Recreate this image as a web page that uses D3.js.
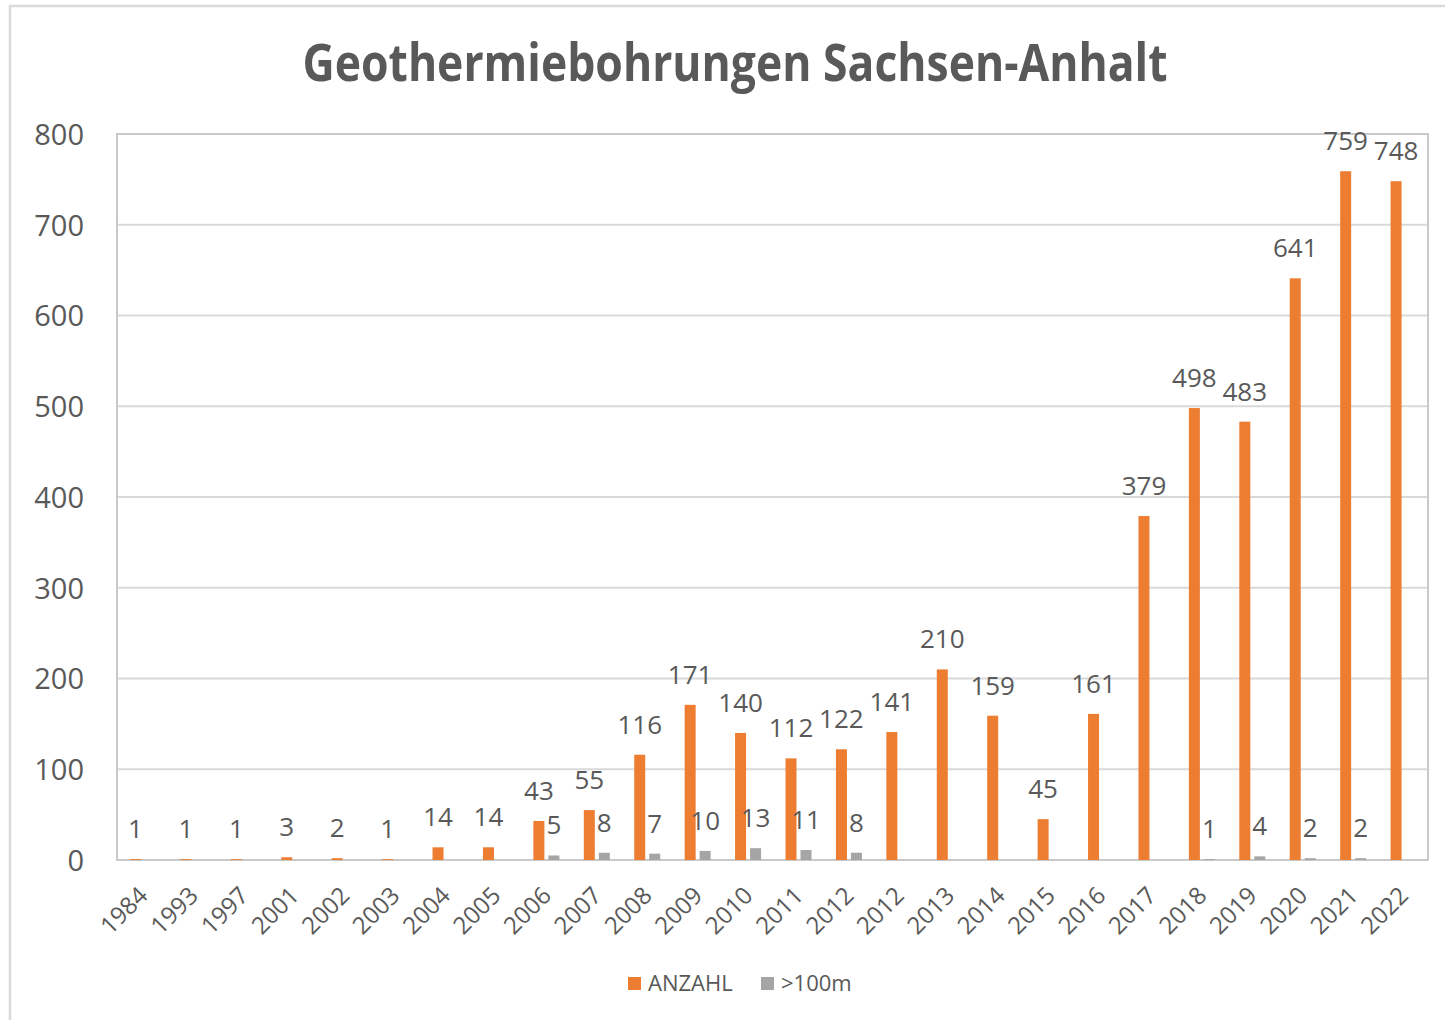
<!DOCTYPE html>
<html>
<head>
<meta charset="utf-8">
<script src="https://cdn.jsdelivr.net/npm/d3@7"></script>
<style>
  html, body { margin: 0; padding: 0; background: #fff; }
  svg { display: block; }
  text { font-family: "Open Sans", sans-serif; fill: #595959; }
</style>
</head>
<body>
<script>
const years = ["1984","1993","1997","2001","2002","2003","2004","2005","2006","2007","2008","2009","2010","2011","2012","2012","2013","2014","2015","2016","2017","2018","2019","2020","2021","2022"];
const anzahl = [1,1,1,3,2,1,14,14,43,55,116,171,140,112,122,141,210,159,45,161,379,498,483,641,759,748];
const ueber100 = [null,null,null,null,null,null,null,null,5,8,7,10,13,11,8,null,null,null,null,null,null,1,4,2,2,null];
const yTicks = [0,100,200,300,400,500,600,700,800];
const seriesNames = ["ANZAHL", ">100m"];
const seriesColors = ["#ED7D31", "#A5A5A5"];
const title = "Geothermiebohrungen Sachsen-Anhalt";

const W = 1445, H = 1020;
const plot = {left: 117, right: 1428, top: 134, bottom: 860};

const svg = d3.select("body").append("svg").attr("width", W).attr("height", H);

// outer chart border (left + top visible)
svg.append("path")
  .attr("d", `M10,${H} L10,6 L${W},6`)
  .attr("fill", "none").attr("stroke", "#D9D9D9").attr("stroke-width", 2.5);

const idx = d3.range(years.length);
const x = d3.scaleBand().domain(idx).range([plot.left, plot.right]).paddingInner(0).paddingOuter(0);
const y = d3.scaleLinear().domain([0, 800]).range([plot.bottom, plot.top]);

// gridlines
svg.append("g").selectAll("line").data(yTicks.filter(t => t > 0 && t < 800)).join("line")
  .attr("x1", plot.left).attr("x2", plot.right)
  .attr("y1", d => y(d)).attr("y2", d => y(d))
  .attr("stroke", "#D9D9D9").attr("stroke-width", 2);

// plot frame
svg.append("rect")
  .attr("x", plot.left).attr("y", plot.top)
  .attr("width", plot.right - plot.left).attr("height", plot.bottom - plot.top)
  .attr("fill", "none").attr("stroke", "#C9C9C9").attr("stroke-width", 2);

// y axis labels
const yAxis = d3.axisLeft(y).tickValues(yTicks).tickSize(0).tickPadding(0);
const gy = svg.append("g").attr("transform", `translate(${plot.left - 33},0)`).call(yAxis);
gy.select(".domain").remove();
gy.selectAll("text").style("font-size", "29px").attr("fill", "#595959").attr("dy", "0.36em");

// x axis labels
const xAxis = d3.axisBottom(x).tickFormat(i => years[i]).tickSize(0).tickPadding(0);
const gx = svg.append("g").attr("transform", `translate(0,${plot.bottom})`).call(xAxis);
gx.select(".domain").remove();
gx.selectAll("text")
  .style("font-size", "24px").attr("fill", "#595959")
  .attr("text-anchor", "end")
  .attr("dy", 0).attr("y", 0)
  .attr("transform", "translate(7,37) rotate(-45)");

const barW = 11;
const offs = [13, 28];
const seriesData = [anzahl, ueber100];

seriesData.forEach((vals, s) => {
  const g = svg.append("g");
  const pts = idx.filter(i => vals[i] != null);
  g.selectAll("rect").data(pts).join("rect")
    .attr("x", i => x(i) + offs[s])
    .attr("y", i => y(vals[i]))
    .attr("width", barW)
    .attr("height", i => y(0) - y(vals[i]))
    .attr("fill", seriesColors[s]);
  g.selectAll("text").data(pts).join("text")
    .attr("x", i => x(i) + offs[s] + barW / 2)
    .attr("y", i => y(vals[i]) - 21)
    .attr("text-anchor", "middle")
    .style("font-size", "26px")
    .attr("fill", "#404040")
    .text(i => vals[i]);
});

// title
svg.append("text")
  .attr("x", 735).attr("y", 81)
  .attr("text-anchor", "middle")
  .style("font-size", "52px").style("font-weight", "bold")
  .attr("textLength", 865).attr("lengthAdjust", "spacingAndGlyphs")
  .attr("fill", "#595959")
  .text(title);

// legend
const legendX = [628, 761];
seriesNames.forEach((n, s) => {
  svg.append("rect").attr("x", legendX[s]).attr("y", 977).attr("width", 13).attr("height", 13).attr("fill", seriesColors[s]);
  svg.append("text").attr("x", legendX[s] + 20).attr("y", 991)
    .style("font-size", "22px").attr("fill", "#595959").text(n);
});
</script>
</body>
</html>
